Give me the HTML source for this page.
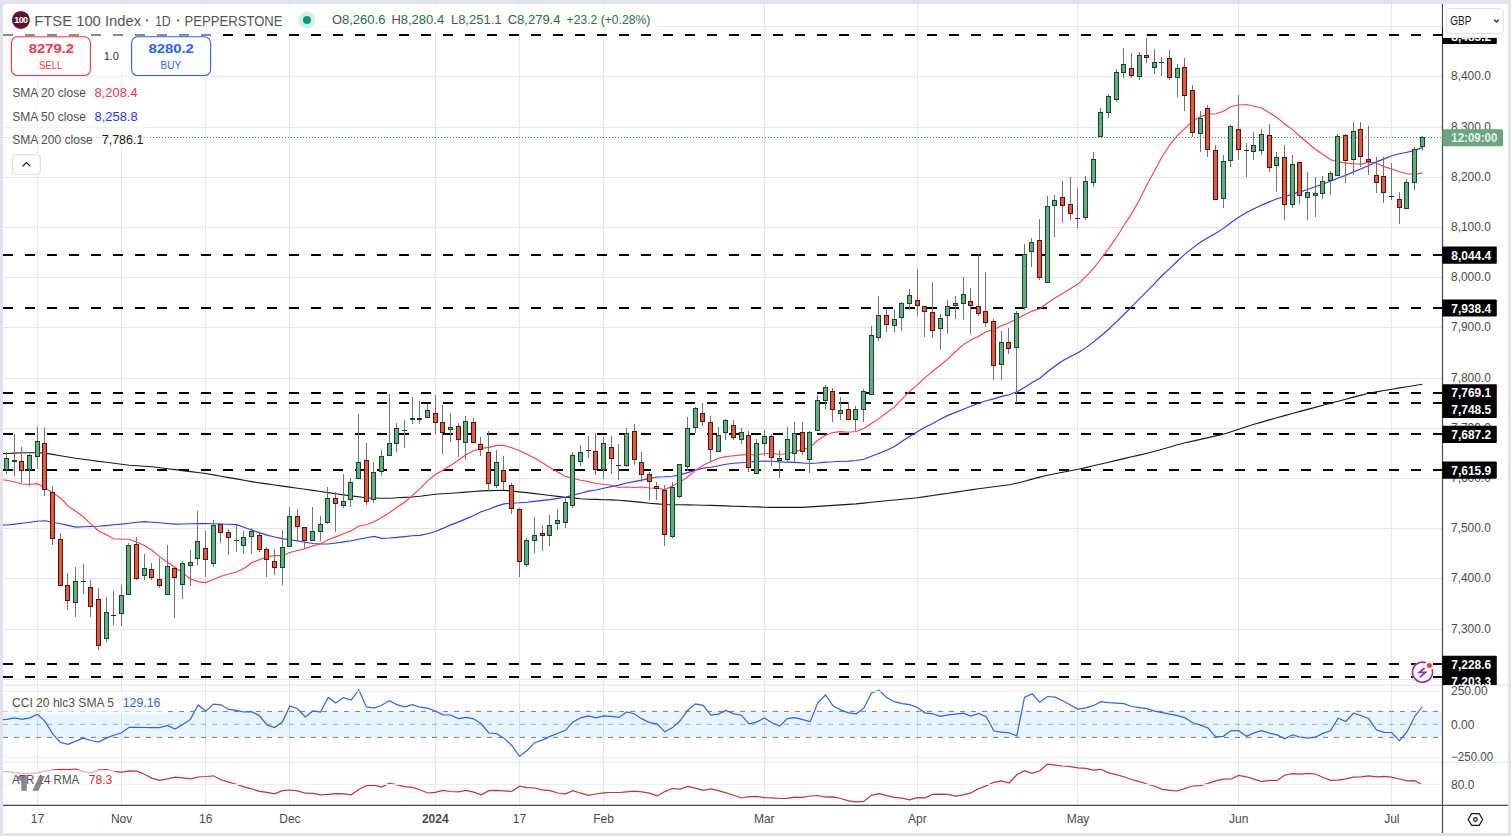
<!DOCTYPE html><html><head><meta charset="utf-8"><style>html,body{margin:0;padding:0;background:#e0e3eb;overflow:hidden}svg{display:block}</style></head><body>
<svg width="1511" height="836" viewBox="0 0 1511 836" style="font-family:&quot;Liberation Sans&quot;,sans-serif">
<rect x="0" y="0" width="1511" height="836" fill="#e0e3eb"/>
<path d="M3 8 Q3 4 7 4 H1504 Q1508 4 1508 8 V833 H3 Z" fill="#ffffff"/>
<defs><clipPath id="chart"><rect x="3" y="4" width="1439.5" height="801"/></clipPath><clipPath id="main"><rect x="3" y="4" width="1439.5" height="681"/></clipPath></defs>
<g stroke="#e6e6e6" stroke-width="1" clip-path="url(#chart)">
<line x1="3" x2="1442" y1="679.5" y2="679.5"/>
<line x1="3" x2="1442" y1="629.5" y2="629.5"/>
<line x1="3" x2="1442" y1="578.5" y2="578.5"/>
<line x1="3" x2="1442" y1="528.5" y2="528.5"/>
<line x1="3" x2="1442" y1="478.5" y2="478.5"/>
<line x1="3" x2="1442" y1="428.5" y2="428.5"/>
<line x1="3" x2="1442" y1="378.5" y2="378.5"/>
<line x1="3" x2="1442" y1="327.5" y2="327.5"/>
<line x1="3" x2="1442" y1="277.5" y2="277.5"/>
<line x1="3" x2="1442" y1="227.5" y2="227.5"/>
<line x1="3" x2="1442" y1="177.5" y2="177.5"/>
<line x1="3" x2="1442" y1="127.5" y2="127.5"/>
<line x1="3" x2="1442" y1="76.5" y2="76.5"/>
<line x1="3" x2="1442" y1="26.5" y2="26.5"/>
<line x1="37.5" x2="37.5" y1="4" y2="805"/>
<line x1="121.5" x2="121.5" y1="4" y2="805"/>
<line x1="205.5" x2="205.5" y1="4" y2="805"/>
<line x1="289.5" x2="289.5" y1="4" y2="805"/>
<line x1="435.5" x2="435.5" y1="4" y2="805"/>
<line x1="519.5" x2="519.5" y1="4" y2="805"/>
<line x1="603.5" x2="603.5" y1="4" y2="805"/>
<line x1="764.5" x2="764.5" y1="4" y2="805"/>
<line x1="917.5" x2="917.5" y1="4" y2="805"/>
<line x1="1077.5" x2="1077.5" y1="4" y2="805"/>
<line x1="1238.5" x2="1238.5" y1="4" y2="805"/>
<line x1="1391.5" x2="1391.5" y1="4" y2="805"/>
</g>
<g stroke="#000" stroke-width="2" stroke-dasharray="10 12" clip-path="url(#main)">
<line x1="3" x2="1442" y1="35" y2="35"/>
<line x1="3" x2="1442" y1="255" y2="255"/>
<line x1="3" x2="1442" y1="308" y2="308"/>
<line x1="3" x2="1442" y1="393" y2="393"/>
<line x1="3" x2="1442" y1="403" y2="403"/>
<line x1="3" x2="1442" y1="434" y2="434"/>
<line x1="3" x2="1442" y1="470" y2="470"/>
<line x1="3" x2="1442" y1="664" y2="664"/>
<line x1="3" x2="1442" y1="677" y2="677"/>
</g>
<line x1="3" x2="1442" y1="137.5" y2="137.5" stroke="#3d8f5f" stroke-width="1" stroke-dasharray="1 2"/>
<g fill="none" clip-path="url(#main)">
<polyline points="3.0,453.6 6.8,453.5 14.5,453.1 22.1,452.7 29.8,452.7 37.4,452.7 45.1,453.1 52.7,454.4 60.4,455.7 68.0,457.0 75.7,458.2 83.3,459.2 91.0,460.3 98.6,461.4 106.3,462.3 113.9,463.3 121.6,464.3 129.2,465.2 136.9,465.7 144.5,466.2 152.2,466.8 159.8,467.7 167.5,468.7 175.1,469.6 182.8,470.6 190.4,471.6 198.1,472.5 205.7,473.5 213.4,474.9 221.0,476.2 228.7,477.6 236.4,478.9 244.0,480.3 251.7,481.6 259.3,482.9 267.0,483.9 274.6,485.0 282.3,486.1 289.9,487.1 297.6,488.2 305.2,489.3 312.9,490.4 320.5,491.5 328.2,492.6 335.8,493.8 343.5,494.9 351.1,495.9 358.8,496.8 366.4,497.7 374.1,498.0 381.7,498.2 389.4,498.2 397.0,497.8 404.7,497.4 412.3,497.0 420.0,496.2 427.6,495.2 435.3,494.2 442.9,493.7 450.6,493.2 458.3,492.7 465.9,492.1 473.6,491.5 481.2,490.9 488.9,490.6 496.5,490.5 504.2,490.4 511.8,491.1 519.5,491.9 527.1,492.6 534.8,493.6 542.4,494.5 550.1,495.5 557.7,496.4 565.4,497.2 573.0,497.9 580.7,498.7 588.3,499.2 596.0,499.4 603.6,499.7 611.3,499.9 618.9,500.2 626.6,500.9 634.2,501.6 641.9,502.4 649.5,503.2 657.2,503.9 664.8,504.5 672.5,504.7 680.1,504.8 687.8,504.9 695.5,505.0 703.1,505.2 710.8,505.4 718.4,505.6 726.1,505.9 733.7,506.2 741.4,506.4 749.0,506.7 756.7,506.9 764.3,507.2 772.0,507.4 779.6,507.4 787.3,507.4 794.9,507.4 802.6,507.4 810.2,506.9 817.9,506.4 825.5,505.9 833.2,505.4 840.8,504.9 848.5,504.4 856.1,503.9 863.8,503.1 871.4,502.3 879.1,501.5 886.7,500.8 894.4,500.0 902.0,499.2 909.7,498.5 917.4,497.7 925.0,496.6 932.7,495.5 940.3,494.4 948.0,493.3 955.6,492.1 963.3,491.0 970.9,489.9 978.6,488.8 986.2,487.7 993.9,486.7 1001.5,485.7 1009.2,484.7 1016.8,483.2 1024.5,481.2 1032.1,479.1 1039.8,477.1 1047.4,475.2 1055.1,473.7 1062.7,472.2 1070.4,470.8 1078.0,469.3 1085.7,467.6 1093.3,465.8 1101.0,464.0 1108.6,462.2 1116.3,460.4 1123.9,458.6 1131.6,456.8 1139.3,455.1 1146.9,453.3 1154.6,451.3 1162.2,449.2 1169.9,447.0 1177.5,444.8 1185.2,442.8 1192.8,441.1 1200.5,439.4 1208.1,437.6 1215.8,435.9 1223.4,434.2 1231.1,431.7 1238.7,429.2 1246.4,426.8 1254.0,424.3 1261.7,422.1 1269.3,419.9 1277.0,417.8 1284.6,415.6 1292.3,413.5 1299.9,411.4 1307.6,409.4 1315.2,407.4 1322.9,405.3 1330.5,403.3 1338.2,401.2 1345.8,399.2 1353.5,397.1 1361.2,395.1 1368.8,393.3 1376.5,391.9 1384.1,390.5 1391.8,389.2 1399.4,387.9 1407.1,386.7 1414.7,385.5 1422.4,384.3" stroke="#1a1a1a" stroke-width="1.15"/>
<polyline points="3.0,525.2 6.8,525.0 14.5,524.1 22.1,523.2 29.8,522.2 37.4,521.2 45.1,520.8 52.7,522.3 60.4,523.8 68.0,525.4 75.7,527.1 83.3,526.8 91.0,526.5 98.6,526.3 106.3,525.6 113.9,524.8 121.6,524.1 129.2,523.2 136.9,522.3 144.5,521.7 152.2,522.3 159.8,522.8 167.5,523.5 175.1,524.1 182.8,524.0 190.4,523.8 198.1,523.6 205.7,523.6 213.4,523.8 221.0,524.0 228.7,524.2 236.4,524.6 244.0,527.3 251.7,530.0 259.3,532.6 267.0,535.1 274.6,537.0 282.3,538.6 289.9,539.7 297.6,540.9 305.2,542.2 312.9,543.5 320.5,544.0 328.2,544.0 335.8,543.0 343.5,541.9 351.1,540.7 358.8,539.3 366.4,537.8 374.1,536.4 381.7,538.3 389.4,538.0 397.0,537.4 404.7,536.6 412.3,535.8 420.0,535.4 427.6,533.8 435.3,531.5 442.9,528.4 450.6,524.9 458.3,522.1 465.9,518.9 473.6,515.6 481.2,511.7 488.9,509.2 496.5,506.1 504.2,503.9 511.8,503.1 519.5,502.8 527.1,502.3 534.8,501.4 542.4,500.4 550.1,499.6 557.7,498.4 565.4,497.2 573.0,495.1 580.7,493.3 588.3,491.1 596.0,490.0 603.6,488.2 611.3,486.6 618.9,485.1 626.6,483.0 634.2,481.6 641.9,480.1 649.5,478.5 657.2,477.0 664.8,476.7 672.5,476.2 680.1,474.9 687.8,472.6 695.5,470.2 703.1,468.1 710.8,467.2 718.4,465.8 726.1,464.2 733.7,463.3 741.4,462.7 749.0,462.0 756.7,461.4 764.3,461.0 772.0,461.3 779.6,461.9 787.3,462.1 794.9,462.4 802.6,463.0 810.2,463.5 817.9,463.0 825.5,462.1 833.2,461.8 840.8,461.2 848.5,461.1 856.1,460.5 863.8,459.3 871.4,456.3 879.1,453.3 886.7,450.2 894.4,446.4 902.0,441.2 909.7,436.3 917.4,431.7 925.0,427.3 932.7,423.4 940.3,419.3 948.0,415.4 955.6,412.4 963.3,409.2 970.9,406.3 978.6,403.2 986.2,400.8 993.9,398.9 1001.5,396.4 1009.2,394.7 1016.8,391.8 1024.5,387.4 1032.1,382.6 1039.8,378.3 1047.4,371.7 1055.1,366.0 1062.7,360.8 1070.4,356.6 1078.0,352.8 1085.7,347.9 1093.3,342.1 1101.0,335.7 1108.6,329.2 1116.3,321.9 1123.9,314.5 1131.6,306.7 1139.3,298.9 1146.9,291.3 1154.6,283.4 1162.2,275.5 1169.9,268.3 1177.5,261.0 1185.2,253.9 1192.8,247.9 1200.5,242.3 1208.1,237.6 1215.8,233.3 1223.4,228.4 1231.1,222.5 1238.7,217.3 1246.4,212.5 1254.0,208.7 1261.7,205.1 1269.3,201.9 1277.0,198.7 1284.6,196.7 1292.3,194.1 1299.9,191.9 1307.6,189.5 1315.2,186.7 1322.9,184.0 1330.5,181.3 1338.2,178.0 1345.8,175.3 1353.5,171.9 1361.2,168.7 1368.8,165.5 1376.5,161.9 1384.1,158.9 1391.8,155.8 1399.4,153.7 1407.1,152.3 1414.7,150.4 1422.4,147.6" stroke="#3434ff" stroke-width="1.15"/>
<polyline points="3.0,480.0 6.8,480.3 14.5,482.0 22.1,484.0 29.8,484.5 37.4,483.7 45.1,487.8 52.7,492.7 60.4,497.9 68.0,506.0 75.7,511.2 83.3,516.8 91.0,524.2 98.6,531.0 106.3,534.8 113.9,538.7 121.6,539.2 129.2,539.3 136.9,542.2 144.5,545.5 152.2,550.5 159.8,556.9 167.5,562.2 175.1,567.5 182.8,572.9 190.4,579.0 198.1,581.6 205.7,582.6 213.4,579.5 221.0,576.2 228.7,574.0 236.4,572.0 244.0,568.5 251.7,562.8 259.3,559.7 267.0,556.9 274.6,555.5 282.3,555.6 289.9,552.5 297.6,550.5 305.2,548.6 312.9,545.9 320.5,543.8 328.2,539.8 335.8,536.9 343.5,533.8 351.1,530.9 358.8,526.0 366.4,524.8 374.1,521.7 381.7,517.6 389.4,512.8 397.0,507.3 404.7,502.3 412.3,495.6 420.0,488.6 427.6,480.8 435.3,474.5 442.9,470.3 450.6,465.4 458.3,460.3 465.9,454.8 473.6,450.8 481.2,448.4 488.9,447.4 496.5,445.4 504.2,445.4 511.8,447.8 519.5,450.8 527.1,454.2 534.8,458.2 542.4,462.8 550.1,467.7 557.7,472.1 565.4,476.4 573.0,478.2 580.7,480.3 588.3,481.6 596.0,483.5 603.6,484.3 611.3,485.3 618.9,487.5 626.6,487.0 634.2,487.5 641.9,487.0 649.5,488.0 657.2,488.3 664.8,489.6 672.5,485.9 680.1,482.1 687.8,476.7 695.5,470.4 703.1,465.2 710.8,461.7 718.4,458.3 726.1,456.6 733.7,455.8 741.4,454.9 749.0,454.8 756.7,454.8 764.3,453.7 772.0,453.3 779.6,454.5 787.3,453.5 794.9,451.4 802.6,449.9 810.2,447.0 817.9,440.2 825.5,435.2 833.2,432.5 840.8,431.6 848.5,432.2 856.1,431.5 863.8,428.6 871.4,423.6 879.1,418.4 886.7,412.8 894.4,407.1 902.0,398.8 909.7,391.4 917.4,384.9 925.0,377.6 932.7,371.3 940.3,365.3 948.0,358.9 955.6,351.5 963.3,344.6 970.9,339.9 978.6,336.2 986.2,331.8 993.9,329.5 1001.5,325.7 1009.2,322.7 1016.8,318.8 1024.5,314.7 1032.1,311.1 1039.8,308.7 1047.4,303.0 1055.1,297.9 1062.7,293.4 1070.4,288.8 1078.0,284.1 1085.7,276.6 1093.3,268.7 1101.0,259.0 1108.6,248.6 1116.3,237.5 1123.9,225.5 1131.6,213.6 1139.3,200.2 1146.9,184.8 1154.6,170.8 1162.2,156.5 1169.9,144.8 1177.5,135.5 1185.2,128.2 1192.8,121.0 1200.5,116.6 1208.1,114.1 1215.8,113.8 1223.4,111.2 1231.1,106.5 1238.7,105.0 1246.4,104.5 1254.0,106.2 1261.7,108.0 1269.3,112.8 1277.0,117.5 1284.6,124.0 1292.3,129.4 1299.9,136.3 1307.6,142.8 1315.2,149.3 1322.9,154.5 1330.5,159.7 1338.2,161.7 1345.8,163.1 1353.5,163.8 1361.2,164.1 1368.8,162.2 1376.5,163.3 1384.1,166.6 1391.8,169.0 1399.4,171.8 1407.1,173.7 1414.7,174.4 1422.4,172.9" stroke="#f7404f" stroke-width="1.15"/>
</g>
<g clip-path="url(#main)" shape-rendering="crispEdges">
<rect x="6" y="452" width="1" height="22" fill="#737373"/>
<rect x="4" y="458" width="5" height="12" fill="#0f4a24"/>
<rect x="5" y="459" width="3" height="10" fill="#6ba886"/>
<rect x="14" y="434" width="1" height="42" fill="#737373"/>
<rect x="12" y="460" width="5" height="2" fill="#0f4a24"/>
<rect x="21" y="447" width="1" height="36" fill="#737373"/>
<rect x="19" y="461" width="5" height="10" fill="#5a120a"/>
<rect x="20" y="462" width="3" height="8" fill="#e05a42"/>
<rect x="29" y="454" width="1" height="32" fill="#737373"/>
<rect x="27" y="455" width="5" height="15" fill="#0f4a24"/>
<rect x="28" y="456" width="3" height="13" fill="#6ba886"/>
<rect x="37" y="427" width="1" height="42" fill="#737373"/>
<rect x="35" y="441" width="5" height="16" fill="#0f4a24"/>
<rect x="36" y="442" width="3" height="14" fill="#6ba886"/>
<rect x="44" y="428" width="1" height="68" fill="#737373"/>
<rect x="42" y="443" width="5" height="47" fill="#5a120a"/>
<rect x="43" y="444" width="3" height="45" fill="#e05a42"/>
<rect x="52" y="486" width="1" height="59" fill="#737373"/>
<rect x="50" y="492" width="5" height="47" fill="#5a120a"/>
<rect x="51" y="493" width="3" height="45" fill="#e05a42"/>
<rect x="60" y="533" width="1" height="53" fill="#737373"/>
<rect x="58" y="539" width="5" height="47" fill="#5a120a"/>
<rect x="59" y="540" width="3" height="45" fill="#e05a42"/>
<rect x="67" y="573" width="1" height="37" fill="#737373"/>
<rect x="65" y="585" width="5" height="16" fill="#5a120a"/>
<rect x="66" y="586" width="3" height="14" fill="#e05a42"/>
<rect x="75" y="567" width="1" height="50" fill="#737373"/>
<rect x="73" y="581" width="5" height="22" fill="#0f4a24"/>
<rect x="74" y="582" width="3" height="20" fill="#6ba886"/>
<rect x="83" y="564" width="1" height="30" fill="#737373"/>
<rect x="81" y="581" width="5" height="1" fill="#0f4a24"/>
<rect x="90" y="580" width="1" height="37" fill="#737373"/>
<rect x="88" y="587" width="5" height="20" fill="#5a120a"/>
<rect x="89" y="588" width="3" height="18" fill="#e05a42"/>
<rect x="98" y="588" width="1" height="62" fill="#737373"/>
<rect x="96" y="599" width="5" height="47" fill="#5a120a"/>
<rect x="97" y="600" width="3" height="45" fill="#e05a42"/>
<rect x="106" y="597" width="1" height="45" fill="#737373"/>
<rect x="104" y="612" width="5" height="27" fill="#0f4a24"/>
<rect x="105" y="613" width="3" height="25" fill="#6ba886"/>
<rect x="113" y="591" width="1" height="34" fill="#737373"/>
<rect x="111" y="615" width="5" height="1" fill="#5a120a"/>
<rect x="121" y="585" width="1" height="41" fill="#737373"/>
<rect x="119" y="595" width="5" height="19" fill="#0f4a24"/>
<rect x="120" y="596" width="3" height="17" fill="#6ba886"/>
<rect x="128" y="543" width="1" height="52" fill="#737373"/>
<rect x="126" y="545" width="5" height="50" fill="#0f4a24"/>
<rect x="127" y="546" width="3" height="48" fill="#6ba886"/>
<rect x="136" y="537" width="1" height="43" fill="#737373"/>
<rect x="134" y="544" width="5" height="35" fill="#5a120a"/>
<rect x="135" y="545" width="3" height="33" fill="#e05a42"/>
<rect x="144" y="554" width="1" height="26" fill="#737373"/>
<rect x="142" y="568" width="5" height="8" fill="#0f4a24"/>
<rect x="143" y="569" width="3" height="6" fill="#6ba886"/>
<rect x="151" y="563" width="1" height="17" fill="#737373"/>
<rect x="149" y="569" width="5" height="9" fill="#5a120a"/>
<rect x="150" y="570" width="3" height="7" fill="#e05a42"/>
<rect x="159" y="558" width="1" height="30" fill="#737373"/>
<rect x="157" y="579" width="5" height="7" fill="#5a120a"/>
<rect x="158" y="580" width="3" height="5" fill="#e05a42"/>
<rect x="167" y="545" width="1" height="50" fill="#737373"/>
<rect x="165" y="566" width="5" height="29" fill="#0f4a24"/>
<rect x="166" y="567" width="3" height="27" fill="#6ba886"/>
<rect x="174" y="568" width="1" height="50" fill="#737373"/>
<rect x="172" y="568" width="5" height="10" fill="#5a120a"/>
<rect x="173" y="569" width="3" height="8" fill="#e05a42"/>
<rect x="182" y="561" width="1" height="38" fill="#737373"/>
<rect x="180" y="563" width="5" height="22" fill="#0f4a24"/>
<rect x="181" y="564" width="3" height="20" fill="#6ba886"/>
<rect x="190" y="550" width="1" height="36" fill="#737373"/>
<rect x="188" y="562" width="5" height="4" fill="#0f4a24"/>
<rect x="189" y="563" width="3" height="2" fill="#6ba886"/>
<rect x="197" y="511" width="1" height="54" fill="#737373"/>
<rect x="195" y="541" width="5" height="18" fill="#0f4a24"/>
<rect x="196" y="542" width="3" height="16" fill="#6ba886"/>
<rect x="205" y="531" width="1" height="46" fill="#737373"/>
<rect x="203" y="548" width="5" height="12" fill="#5a120a"/>
<rect x="204" y="549" width="3" height="10" fill="#e05a42"/>
<rect x="213" y="520" width="1" height="47" fill="#737373"/>
<rect x="211" y="525" width="5" height="39" fill="#0f4a24"/>
<rect x="212" y="526" width="3" height="37" fill="#6ba886"/>
<rect x="220" y="524" width="1" height="19" fill="#737373"/>
<rect x="218" y="524" width="5" height="9" fill="#5a120a"/>
<rect x="219" y="525" width="3" height="7" fill="#e05a42"/>
<rect x="228" y="529" width="1" height="26" fill="#737373"/>
<rect x="226" y="532" width="5" height="6" fill="#5a120a"/>
<rect x="227" y="533" width="3" height="4" fill="#e05a42"/>
<rect x="236" y="525" width="1" height="27" fill="#737373"/>
<rect x="234" y="540" width="5" height="1" fill="#0f4a24"/>
<rect x="243" y="531" width="1" height="23" fill="#737373"/>
<rect x="241" y="537" width="5" height="9" fill="#0f4a24"/>
<rect x="242" y="538" width="3" height="7" fill="#6ba886"/>
<rect x="251" y="528" width="1" height="26" fill="#737373"/>
<rect x="249" y="531" width="5" height="6" fill="#0f4a24"/>
<rect x="250" y="532" width="3" height="4" fill="#6ba886"/>
<rect x="259" y="532" width="1" height="20" fill="#737373"/>
<rect x="257" y="535" width="5" height="15" fill="#5a120a"/>
<rect x="258" y="536" width="3" height="13" fill="#e05a42"/>
<rect x="266" y="547" width="1" height="30" fill="#737373"/>
<rect x="264" y="549" width="5" height="11" fill="#5a120a"/>
<rect x="265" y="550" width="3" height="9" fill="#e05a42"/>
<rect x="274" y="549" width="1" height="26" fill="#737373"/>
<rect x="272" y="561" width="5" height="7" fill="#5a120a"/>
<rect x="273" y="562" width="3" height="5" fill="#e05a42"/>
<rect x="282" y="530" width="1" height="55" fill="#737373"/>
<rect x="280" y="547" width="5" height="21" fill="#0f4a24"/>
<rect x="281" y="548" width="3" height="19" fill="#6ba886"/>
<rect x="289" y="507" width="1" height="40" fill="#737373"/>
<rect x="287" y="516" width="5" height="31" fill="#0f4a24"/>
<rect x="288" y="517" width="3" height="29" fill="#6ba886"/>
<rect x="297" y="509" width="1" height="31" fill="#737373"/>
<rect x="295" y="516" width="5" height="11" fill="#5a120a"/>
<rect x="296" y="517" width="3" height="9" fill="#e05a42"/>
<rect x="304" y="527" width="1" height="21" fill="#737373"/>
<rect x="302" y="527" width="5" height="14" fill="#5a120a"/>
<rect x="303" y="528" width="3" height="12" fill="#e05a42"/>
<rect x="312" y="507" width="1" height="34" fill="#737373"/>
<rect x="310" y="531" width="5" height="10" fill="#0f4a24"/>
<rect x="311" y="532" width="3" height="8" fill="#6ba886"/>
<rect x="320" y="516" width="1" height="25" fill="#737373"/>
<rect x="318" y="524" width="5" height="8" fill="#0f4a24"/>
<rect x="319" y="525" width="3" height="6" fill="#6ba886"/>
<rect x="327" y="487" width="1" height="37" fill="#737373"/>
<rect x="325" y="498" width="5" height="25" fill="#0f4a24"/>
<rect x="326" y="499" width="3" height="23" fill="#6ba886"/>
<rect x="335" y="492" width="1" height="40" fill="#737373"/>
<rect x="333" y="498" width="5" height="6" fill="#5a120a"/>
<rect x="334" y="499" width="3" height="4" fill="#e05a42"/>
<rect x="343" y="474" width="1" height="34" fill="#737373"/>
<rect x="341" y="501" width="5" height="5" fill="#0f4a24"/>
<rect x="342" y="502" width="3" height="3" fill="#6ba886"/>
<rect x="350" y="478" width="1" height="29" fill="#737373"/>
<rect x="348" y="482" width="5" height="18" fill="#0f4a24"/>
<rect x="349" y="483" width="3" height="16" fill="#6ba886"/>
<rect x="358" y="414" width="1" height="65" fill="#737373"/>
<rect x="356" y="462" width="5" height="17" fill="#0f4a24"/>
<rect x="357" y="463" width="3" height="15" fill="#6ba886"/>
<rect x="366" y="443" width="1" height="62" fill="#737373"/>
<rect x="364" y="460" width="5" height="42" fill="#5a120a"/>
<rect x="365" y="461" width="3" height="40" fill="#e05a42"/>
<rect x="373" y="462" width="1" height="41" fill="#737373"/>
<rect x="371" y="472" width="5" height="28" fill="#0f4a24"/>
<rect x="372" y="473" width="3" height="26" fill="#6ba886"/>
<rect x="381" y="450" width="1" height="26" fill="#737373"/>
<rect x="379" y="456" width="5" height="16" fill="#0f4a24"/>
<rect x="380" y="457" width="3" height="14" fill="#6ba886"/>
<rect x="389" y="394" width="1" height="62" fill="#737373"/>
<rect x="387" y="443" width="5" height="13" fill="#0f4a24"/>
<rect x="388" y="444" width="3" height="11" fill="#6ba886"/>
<rect x="396" y="423" width="1" height="29" fill="#737373"/>
<rect x="394" y="428" width="5" height="16" fill="#0f4a24"/>
<rect x="395" y="429" width="3" height="14" fill="#6ba886"/>
<rect x="404" y="420" width="1" height="28" fill="#737373"/>
<rect x="402" y="430" width="5" height="1" fill="#0f4a24"/>
<rect x="412" y="397" width="1" height="27" fill="#737373"/>
<rect x="410" y="418" width="5" height="2" fill="#0f4a24"/>
<rect x="419" y="401" width="1" height="23" fill="#737373"/>
<rect x="417" y="418" width="5" height="2" fill="#5a120a"/>
<rect x="427" y="404" width="1" height="14" fill="#737373"/>
<rect x="425" y="410" width="5" height="8" fill="#0f4a24"/>
<rect x="426" y="411" width="3" height="6" fill="#6ba886"/>
<rect x="435" y="395" width="1" height="39" fill="#737373"/>
<rect x="433" y="413" width="5" height="10" fill="#5a120a"/>
<rect x="434" y="414" width="3" height="8" fill="#e05a42"/>
<rect x="442" y="405" width="1" height="49" fill="#737373"/>
<rect x="440" y="422" width="5" height="11" fill="#5a120a"/>
<rect x="441" y="423" width="3" height="9" fill="#e05a42"/>
<rect x="450" y="413" width="1" height="29" fill="#737373"/>
<rect x="448" y="427" width="5" height="3" fill="#0f4a24"/>
<rect x="449" y="428" width="3" height="1" fill="#6ba886"/>
<rect x="458" y="423" width="1" height="34" fill="#737373"/>
<rect x="456" y="426" width="5" height="14" fill="#5a120a"/>
<rect x="457" y="427" width="3" height="12" fill="#e05a42"/>
<rect x="465" y="416" width="1" height="44" fill="#737373"/>
<rect x="463" y="421" width="5" height="22" fill="#0f4a24"/>
<rect x="464" y="422" width="3" height="20" fill="#6ba886"/>
<rect x="473" y="418" width="1" height="25" fill="#737373"/>
<rect x="471" y="422" width="5" height="21" fill="#5a120a"/>
<rect x="472" y="423" width="3" height="19" fill="#e05a42"/>
<rect x="480" y="437" width="1" height="19" fill="#737373"/>
<rect x="478" y="444" width="5" height="6" fill="#5a120a"/>
<rect x="479" y="445" width="3" height="4" fill="#e05a42"/>
<rect x="488" y="431" width="1" height="60" fill="#737373"/>
<rect x="486" y="452" width="5" height="32" fill="#5a120a"/>
<rect x="487" y="453" width="3" height="30" fill="#e05a42"/>
<rect x="496" y="450" width="1" height="38" fill="#737373"/>
<rect x="494" y="462" width="5" height="24" fill="#0f4a24"/>
<rect x="495" y="463" width="3" height="22" fill="#6ba886"/>
<rect x="503" y="456" width="1" height="34" fill="#737373"/>
<rect x="501" y="470" width="5" height="12" fill="#5a120a"/>
<rect x="502" y="471" width="3" height="10" fill="#e05a42"/>
<rect x="511" y="483" width="1" height="31" fill="#737373"/>
<rect x="509" y="485" width="5" height="24" fill="#5a120a"/>
<rect x="510" y="486" width="3" height="22" fill="#e05a42"/>
<rect x="519" y="508" width="1" height="69" fill="#737373"/>
<rect x="517" y="509" width="5" height="53" fill="#5a120a"/>
<rect x="518" y="510" width="3" height="51" fill="#e05a42"/>
<rect x="526" y="538" width="1" height="29" fill="#737373"/>
<rect x="524" y="540" width="5" height="25" fill="#0f4a24"/>
<rect x="525" y="541" width="3" height="23" fill="#6ba886"/>
<rect x="534" y="517" width="1" height="36" fill="#737373"/>
<rect x="532" y="535" width="5" height="6" fill="#0f4a24"/>
<rect x="533" y="536" width="3" height="4" fill="#6ba886"/>
<rect x="542" y="525" width="1" height="26" fill="#737373"/>
<rect x="540" y="533" width="5" height="3" fill="#5a120a"/>
<rect x="541" y="534" width="3" height="1" fill="#e05a42"/>
<rect x="549" y="515" width="1" height="31" fill="#737373"/>
<rect x="547" y="525" width="5" height="11" fill="#0f4a24"/>
<rect x="548" y="526" width="3" height="9" fill="#6ba886"/>
<rect x="557" y="509" width="1" height="21" fill="#737373"/>
<rect x="555" y="520" width="5" height="4" fill="#0f4a24"/>
<rect x="556" y="521" width="3" height="2" fill="#6ba886"/>
<rect x="565" y="498" width="1" height="30" fill="#737373"/>
<rect x="563" y="502" width="5" height="21" fill="#0f4a24"/>
<rect x="564" y="503" width="3" height="19" fill="#6ba886"/>
<rect x="572" y="452" width="1" height="56" fill="#737373"/>
<rect x="570" y="455" width="5" height="51" fill="#0f4a24"/>
<rect x="571" y="456" width="3" height="49" fill="#6ba886"/>
<rect x="580" y="445" width="1" height="21" fill="#737373"/>
<rect x="578" y="452" width="5" height="10" fill="#0f4a24"/>
<rect x="579" y="453" width="3" height="8" fill="#6ba886"/>
<rect x="588" y="436" width="1" height="22" fill="#737373"/>
<rect x="586" y="450" width="5" height="1" fill="#5a120a"/>
<rect x="595" y="433" width="1" height="42" fill="#737373"/>
<rect x="593" y="451" width="5" height="19" fill="#5a120a"/>
<rect x="594" y="452" width="3" height="17" fill="#e05a42"/>
<rect x="603" y="437" width="1" height="42" fill="#737373"/>
<rect x="601" y="443" width="5" height="27" fill="#0f4a24"/>
<rect x="602" y="444" width="3" height="25" fill="#6ba886"/>
<rect x="611" y="436" width="1" height="38" fill="#737373"/>
<rect x="609" y="447" width="5" height="12" fill="#5a120a"/>
<rect x="610" y="448" width="3" height="10" fill="#e05a42"/>
<rect x="618" y="444" width="1" height="36" fill="#737373"/>
<rect x="616" y="465" width="5" height="1" fill="#5a120a"/>
<rect x="626" y="428" width="1" height="39" fill="#737373"/>
<rect x="624" y="433" width="5" height="33" fill="#0f4a24"/>
<rect x="625" y="434" width="3" height="31" fill="#6ba886"/>
<rect x="634" y="424" width="1" height="41" fill="#737373"/>
<rect x="632" y="431" width="5" height="29" fill="#5a120a"/>
<rect x="633" y="432" width="3" height="27" fill="#e05a42"/>
<rect x="641" y="452" width="1" height="30" fill="#737373"/>
<rect x="639" y="462" width="5" height="13" fill="#5a120a"/>
<rect x="640" y="463" width="3" height="11" fill="#e05a42"/>
<rect x="649" y="472" width="1" height="28" fill="#737373"/>
<rect x="647" y="474" width="5" height="8" fill="#5a120a"/>
<rect x="648" y="475" width="3" height="6" fill="#e05a42"/>
<rect x="656" y="482" width="1" height="18" fill="#737373"/>
<rect x="654" y="486" width="5" height="3" fill="#5a120a"/>
<rect x="655" y="487" width="3" height="1" fill="#e05a42"/>
<rect x="664" y="485" width="1" height="61" fill="#737373"/>
<rect x="662" y="490" width="5" height="45" fill="#5a120a"/>
<rect x="663" y="491" width="3" height="43" fill="#e05a42"/>
<rect x="672" y="482" width="1" height="56" fill="#737373"/>
<rect x="670" y="487" width="5" height="50" fill="#0f4a24"/>
<rect x="671" y="488" width="3" height="48" fill="#6ba886"/>
<rect x="679" y="464" width="1" height="34" fill="#737373"/>
<rect x="677" y="464" width="5" height="33" fill="#0f4a24"/>
<rect x="678" y="465" width="3" height="31" fill="#6ba886"/>
<rect x="687" y="417" width="1" height="54" fill="#737373"/>
<rect x="685" y="428" width="5" height="39" fill="#0f4a24"/>
<rect x="686" y="429" width="3" height="37" fill="#6ba886"/>
<rect x="695" y="407" width="1" height="26" fill="#737373"/>
<rect x="693" y="408" width="5" height="20" fill="#0f4a24"/>
<rect x="694" y="409" width="3" height="18" fill="#6ba886"/>
<rect x="702" y="403" width="1" height="23" fill="#737373"/>
<rect x="700" y="413" width="5" height="9" fill="#5a120a"/>
<rect x="701" y="414" width="3" height="7" fill="#e05a42"/>
<rect x="710" y="416" width="1" height="46" fill="#737373"/>
<rect x="708" y="422" width="5" height="28" fill="#5a120a"/>
<rect x="709" y="423" width="3" height="26" fill="#e05a42"/>
<rect x="718" y="427" width="1" height="25" fill="#737373"/>
<rect x="716" y="435" width="5" height="17" fill="#0f4a24"/>
<rect x="717" y="436" width="3" height="15" fill="#6ba886"/>
<rect x="725" y="419" width="1" height="21" fill="#737373"/>
<rect x="723" y="420" width="5" height="13" fill="#0f4a24"/>
<rect x="724" y="421" width="3" height="11" fill="#6ba886"/>
<rect x="733" y="420" width="1" height="20" fill="#737373"/>
<rect x="731" y="425" width="5" height="13" fill="#5a120a"/>
<rect x="732" y="426" width="3" height="11" fill="#e05a42"/>
<rect x="741" y="428" width="1" height="16" fill="#737373"/>
<rect x="739" y="432" width="5" height="8" fill="#0f4a24"/>
<rect x="740" y="433" width="3" height="6" fill="#6ba886"/>
<rect x="748" y="431" width="1" height="41" fill="#737373"/>
<rect x="746" y="435" width="5" height="33" fill="#5a120a"/>
<rect x="747" y="436" width="3" height="31" fill="#e05a42"/>
<rect x="756" y="439" width="1" height="35" fill="#737373"/>
<rect x="754" y="443" width="5" height="31" fill="#0f4a24"/>
<rect x="755" y="444" width="3" height="29" fill="#6ba886"/>
<rect x="764" y="430" width="1" height="26" fill="#737373"/>
<rect x="762" y="436" width="5" height="8" fill="#0f4a24"/>
<rect x="763" y="437" width="3" height="6" fill="#6ba886"/>
<rect x="771" y="434" width="1" height="32" fill="#737373"/>
<rect x="769" y="436" width="5" height="22" fill="#5a120a"/>
<rect x="770" y="437" width="3" height="20" fill="#e05a42"/>
<rect x="779" y="450" width="1" height="28" fill="#737373"/>
<rect x="777" y="458" width="5" height="3" fill="#0f4a24"/>
<rect x="778" y="459" width="3" height="1" fill="#6ba886"/>
<rect x="787" y="427" width="1" height="34" fill="#737373"/>
<rect x="785" y="439" width="5" height="21" fill="#0f4a24"/>
<rect x="786" y="440" width="3" height="19" fill="#6ba886"/>
<rect x="794" y="422" width="1" height="40" fill="#737373"/>
<rect x="792" y="433" width="5" height="21" fill="#0f4a24"/>
<rect x="793" y="434" width="3" height="19" fill="#6ba886"/>
<rect x="802" y="422" width="1" height="33" fill="#737373"/>
<rect x="800" y="432" width="5" height="20" fill="#5a120a"/>
<rect x="801" y="433" width="3" height="18" fill="#e05a42"/>
<rect x="809" y="431" width="1" height="42" fill="#737373"/>
<rect x="807" y="432" width="5" height="28" fill="#0f4a24"/>
<rect x="808" y="433" width="3" height="26" fill="#6ba886"/>
<rect x="817" y="395" width="1" height="36" fill="#737373"/>
<rect x="815" y="400" width="5" height="31" fill="#0f4a24"/>
<rect x="816" y="401" width="3" height="29" fill="#6ba886"/>
<rect x="825" y="385" width="1" height="24" fill="#737373"/>
<rect x="823" y="387" width="5" height="14" fill="#0f4a24"/>
<rect x="824" y="388" width="3" height="12" fill="#6ba886"/>
<rect x="832" y="388" width="1" height="34" fill="#737373"/>
<rect x="830" y="391" width="5" height="19" fill="#5a120a"/>
<rect x="831" y="392" width="3" height="17" fill="#e05a42"/>
<rect x="840" y="397" width="1" height="23" fill="#737373"/>
<rect x="838" y="410" width="5" height="4" fill="#0f4a24"/>
<rect x="839" y="411" width="3" height="2" fill="#6ba886"/>
<rect x="848" y="402" width="1" height="18" fill="#737373"/>
<rect x="846" y="409" width="5" height="11" fill="#5a120a"/>
<rect x="847" y="410" width="3" height="9" fill="#e05a42"/>
<rect x="855" y="406" width="1" height="25" fill="#737373"/>
<rect x="853" y="409" width="5" height="11" fill="#0f4a24"/>
<rect x="854" y="410" width="3" height="9" fill="#6ba886"/>
<rect x="863" y="389" width="1" height="33" fill="#737373"/>
<rect x="861" y="391" width="5" height="19" fill="#0f4a24"/>
<rect x="862" y="392" width="3" height="17" fill="#6ba886"/>
<rect x="871" y="326" width="1" height="69" fill="#737373"/>
<rect x="869" y="335" width="5" height="60" fill="#0f4a24"/>
<rect x="870" y="336" width="3" height="58" fill="#6ba886"/>
<rect x="878" y="296" width="1" height="45" fill="#737373"/>
<rect x="876" y="315" width="5" height="23" fill="#0f4a24"/>
<rect x="877" y="316" width="3" height="21" fill="#6ba886"/>
<rect x="886" y="308" width="1" height="24" fill="#737373"/>
<rect x="884" y="315" width="5" height="10" fill="#5a120a"/>
<rect x="885" y="316" width="3" height="8" fill="#e05a42"/>
<rect x="894" y="310" width="1" height="22" fill="#737373"/>
<rect x="892" y="319" width="5" height="7" fill="#0f4a24"/>
<rect x="893" y="320" width="3" height="5" fill="#6ba886"/>
<rect x="901" y="302" width="1" height="29" fill="#737373"/>
<rect x="899" y="303" width="5" height="15" fill="#0f4a24"/>
<rect x="900" y="304" width="3" height="13" fill="#6ba886"/>
<rect x="909" y="289" width="1" height="21" fill="#737373"/>
<rect x="907" y="295" width="5" height="9" fill="#0f4a24"/>
<rect x="908" y="296" width="3" height="7" fill="#6ba886"/>
<rect x="917" y="269" width="1" height="47" fill="#737373"/>
<rect x="915" y="300" width="5" height="6" fill="#5a120a"/>
<rect x="916" y="301" width="3" height="4" fill="#e05a42"/>
<rect x="924" y="306" width="1" height="31" fill="#737373"/>
<rect x="922" y="306" width="5" height="6" fill="#5a120a"/>
<rect x="923" y="307" width="3" height="4" fill="#e05a42"/>
<rect x="932" y="282" width="1" height="56" fill="#737373"/>
<rect x="930" y="312" width="5" height="19" fill="#5a120a"/>
<rect x="931" y="313" width="3" height="17" fill="#e05a42"/>
<rect x="940" y="314" width="1" height="36" fill="#737373"/>
<rect x="938" y="318" width="5" height="11" fill="#0f4a24"/>
<rect x="939" y="319" width="3" height="9" fill="#6ba886"/>
<rect x="947" y="300" width="1" height="34" fill="#737373"/>
<rect x="945" y="306" width="5" height="10" fill="#0f4a24"/>
<rect x="946" y="307" width="3" height="8" fill="#6ba886"/>
<rect x="955" y="296" width="1" height="23" fill="#737373"/>
<rect x="953" y="303" width="5" height="3" fill="#0f4a24"/>
<rect x="954" y="304" width="3" height="1" fill="#6ba886"/>
<rect x="963" y="277" width="1" height="43" fill="#737373"/>
<rect x="961" y="294" width="5" height="10" fill="#0f4a24"/>
<rect x="962" y="295" width="3" height="8" fill="#6ba886"/>
<rect x="970" y="288" width="1" height="46" fill="#737373"/>
<rect x="968" y="301" width="5" height="5" fill="#5a120a"/>
<rect x="969" y="302" width="3" height="3" fill="#e05a42"/>
<rect x="978" y="255" width="1" height="61" fill="#737373"/>
<rect x="976" y="306" width="5" height="8" fill="#5a120a"/>
<rect x="977" y="307" width="3" height="6" fill="#e05a42"/>
<rect x="985" y="272" width="1" height="55" fill="#737373"/>
<rect x="983" y="311" width="5" height="12" fill="#5a120a"/>
<rect x="984" y="312" width="3" height="10" fill="#e05a42"/>
<rect x="993" y="319" width="1" height="61" fill="#737373"/>
<rect x="991" y="321" width="5" height="45" fill="#5a120a"/>
<rect x="992" y="322" width="3" height="43" fill="#e05a42"/>
<rect x="1001" y="331" width="1" height="49" fill="#737373"/>
<rect x="999" y="342" width="5" height="23" fill="#0f4a24"/>
<rect x="1000" y="343" width="3" height="21" fill="#6ba886"/>
<rect x="1008" y="328" width="1" height="26" fill="#737373"/>
<rect x="1006" y="342" width="5" height="7" fill="#5a120a"/>
<rect x="1007" y="343" width="3" height="5" fill="#e05a42"/>
<rect x="1016" y="311" width="1" height="92" fill="#737373"/>
<rect x="1014" y="313" width="5" height="35" fill="#0f4a24"/>
<rect x="1015" y="314" width="3" height="33" fill="#6ba886"/>
<rect x="1024" y="244" width="1" height="66" fill="#737373"/>
<rect x="1022" y="254" width="5" height="54" fill="#0f4a24"/>
<rect x="1023" y="255" width="3" height="52" fill="#6ba886"/>
<rect x="1031" y="238" width="1" height="29" fill="#737373"/>
<rect x="1029" y="242" width="5" height="10" fill="#0f4a24"/>
<rect x="1030" y="243" width="3" height="8" fill="#6ba886"/>
<rect x="1039" y="219" width="1" height="61" fill="#737373"/>
<rect x="1037" y="240" width="5" height="38" fill="#5a120a"/>
<rect x="1038" y="241" width="3" height="36" fill="#e05a42"/>
<rect x="1047" y="196" width="1" height="87" fill="#737373"/>
<rect x="1045" y="206" width="5" height="77" fill="#0f4a24"/>
<rect x="1046" y="207" width="3" height="75" fill="#6ba886"/>
<rect x="1054" y="195" width="1" height="42" fill="#737373"/>
<rect x="1052" y="200" width="5" height="6" fill="#0f4a24"/>
<rect x="1053" y="201" width="3" height="4" fill="#6ba886"/>
<rect x="1062" y="181" width="1" height="42" fill="#737373"/>
<rect x="1060" y="197" width="5" height="9" fill="#5a120a"/>
<rect x="1061" y="198" width="3" height="7" fill="#e05a42"/>
<rect x="1070" y="177" width="1" height="43" fill="#737373"/>
<rect x="1068" y="204" width="5" height="10" fill="#5a120a"/>
<rect x="1069" y="205" width="3" height="8" fill="#e05a42"/>
<rect x="1077" y="188" width="1" height="40" fill="#737373"/>
<rect x="1075" y="218" width="5" height="1" fill="#5a120a"/>
<rect x="1085" y="176" width="1" height="44" fill="#737373"/>
<rect x="1083" y="181" width="5" height="37" fill="#0f4a24"/>
<rect x="1084" y="182" width="3" height="35" fill="#6ba886"/>
<rect x="1093" y="152" width="1" height="35" fill="#737373"/>
<rect x="1091" y="159" width="5" height="24" fill="#0f4a24"/>
<rect x="1092" y="160" width="3" height="22" fill="#6ba886"/>
<rect x="1100" y="108" width="1" height="29" fill="#737373"/>
<rect x="1098" y="112" width="5" height="25" fill="#0f4a24"/>
<rect x="1099" y="113" width="3" height="23" fill="#6ba886"/>
<rect x="1108" y="94" width="1" height="24" fill="#737373"/>
<rect x="1106" y="96" width="5" height="17" fill="#0f4a24"/>
<rect x="1107" y="97" width="3" height="15" fill="#6ba886"/>
<rect x="1116" y="69" width="1" height="33" fill="#737373"/>
<rect x="1114" y="72" width="5" height="28" fill="#0f4a24"/>
<rect x="1115" y="73" width="3" height="26" fill="#6ba886"/>
<rect x="1123" y="48" width="1" height="30" fill="#737373"/>
<rect x="1121" y="64" width="5" height="9" fill="#0f4a24"/>
<rect x="1122" y="65" width="3" height="7" fill="#6ba886"/>
<rect x="1131" y="53" width="1" height="25" fill="#737373"/>
<rect x="1129" y="68" width="5" height="8" fill="#5a120a"/>
<rect x="1130" y="69" width="3" height="6" fill="#e05a42"/>
<rect x="1139" y="52" width="1" height="28" fill="#737373"/>
<rect x="1137" y="55" width="5" height="22" fill="#0f4a24"/>
<rect x="1138" y="56" width="3" height="20" fill="#6ba886"/>
<rect x="1146" y="38" width="1" height="25" fill="#737373"/>
<rect x="1144" y="55" width="5" height="3" fill="#5a120a"/>
<rect x="1145" y="56" width="3" height="1" fill="#e05a42"/>
<rect x="1154" y="49" width="1" height="25" fill="#737373"/>
<rect x="1152" y="62" width="5" height="6" fill="#0f4a24"/>
<rect x="1153" y="63" width="3" height="4" fill="#6ba886"/>
<rect x="1161" y="57" width="1" height="19" fill="#737373"/>
<rect x="1159" y="62" width="5" height="1" fill="#0f4a24"/>
<rect x="1169" y="50" width="1" height="30" fill="#737373"/>
<rect x="1167" y="58" width="5" height="20" fill="#5a120a"/>
<rect x="1168" y="59" width="3" height="18" fill="#e05a42"/>
<rect x="1177" y="64" width="1" height="33" fill="#737373"/>
<rect x="1175" y="68" width="5" height="10" fill="#0f4a24"/>
<rect x="1176" y="69" width="3" height="8" fill="#6ba886"/>
<rect x="1184" y="58" width="1" height="53" fill="#737373"/>
<rect x="1182" y="67" width="5" height="29" fill="#5a120a"/>
<rect x="1183" y="68" width="3" height="27" fill="#e05a42"/>
<rect x="1192" y="85" width="1" height="52" fill="#737373"/>
<rect x="1190" y="90" width="5" height="43" fill="#5a120a"/>
<rect x="1191" y="91" width="3" height="41" fill="#e05a42"/>
<rect x="1200" y="111" width="1" height="41" fill="#737373"/>
<rect x="1198" y="118" width="5" height="16" fill="#0f4a24"/>
<rect x="1199" y="119" width="3" height="14" fill="#6ba886"/>
<rect x="1207" y="105" width="1" height="52" fill="#737373"/>
<rect x="1205" y="108" width="5" height="42" fill="#5a120a"/>
<rect x="1206" y="109" width="3" height="40" fill="#e05a42"/>
<rect x="1215" y="145" width="1" height="55" fill="#737373"/>
<rect x="1213" y="150" width="5" height="50" fill="#5a120a"/>
<rect x="1214" y="151" width="3" height="48" fill="#e05a42"/>
<rect x="1223" y="155" width="1" height="53" fill="#737373"/>
<rect x="1221" y="161" width="5" height="38" fill="#0f4a24"/>
<rect x="1222" y="162" width="3" height="36" fill="#6ba886"/>
<rect x="1230" y="125" width="1" height="42" fill="#737373"/>
<rect x="1228" y="126" width="5" height="35" fill="#0f4a24"/>
<rect x="1229" y="127" width="3" height="33" fill="#6ba886"/>
<rect x="1238" y="95" width="1" height="65" fill="#737373"/>
<rect x="1236" y="129" width="5" height="21" fill="#5a120a"/>
<rect x="1237" y="130" width="3" height="19" fill="#e05a42"/>
<rect x="1246" y="143" width="1" height="34" fill="#737373"/>
<rect x="1244" y="150" width="5" height="1" fill="#5a120a"/>
<rect x="1253" y="132" width="1" height="28" fill="#737373"/>
<rect x="1251" y="145" width="5" height="7" fill="#0f4a24"/>
<rect x="1252" y="146" width="3" height="5" fill="#6ba886"/>
<rect x="1261" y="129" width="1" height="26" fill="#737373"/>
<rect x="1259" y="134" width="5" height="17" fill="#0f4a24"/>
<rect x="1260" y="135" width="3" height="15" fill="#6ba886"/>
<rect x="1269" y="124" width="1" height="48" fill="#737373"/>
<rect x="1267" y="135" width="5" height="33" fill="#5a120a"/>
<rect x="1268" y="136" width="3" height="31" fill="#e05a42"/>
<rect x="1276" y="152" width="1" height="40" fill="#737373"/>
<rect x="1274" y="157" width="5" height="9" fill="#0f4a24"/>
<rect x="1275" y="158" width="3" height="7" fill="#6ba886"/>
<rect x="1284" y="145" width="1" height="75" fill="#737373"/>
<rect x="1282" y="157" width="5" height="48" fill="#5a120a"/>
<rect x="1283" y="158" width="3" height="46" fill="#e05a42"/>
<rect x="1292" y="155" width="1" height="53" fill="#737373"/>
<rect x="1290" y="164" width="5" height="41" fill="#0f4a24"/>
<rect x="1291" y="165" width="3" height="39" fill="#6ba886"/>
<rect x="1299" y="162" width="1" height="42" fill="#737373"/>
<rect x="1297" y="162" width="5" height="34" fill="#5a120a"/>
<rect x="1298" y="163" width="3" height="32" fill="#e05a42"/>
<rect x="1307" y="172" width="1" height="48" fill="#737373"/>
<rect x="1305" y="192" width="5" height="6" fill="#0f4a24"/>
<rect x="1306" y="193" width="3" height="4" fill="#6ba886"/>
<rect x="1315" y="177" width="1" height="40" fill="#737373"/>
<rect x="1313" y="193" width="5" height="3" fill="#0f4a24"/>
<rect x="1314" y="194" width="3" height="1" fill="#6ba886"/>
<rect x="1322" y="176" width="1" height="23" fill="#737373"/>
<rect x="1320" y="181" width="5" height="13" fill="#0f4a24"/>
<rect x="1321" y="182" width="3" height="11" fill="#6ba886"/>
<rect x="1330" y="171" width="1" height="24" fill="#737373"/>
<rect x="1328" y="173" width="5" height="8" fill="#0f4a24"/>
<rect x="1329" y="174" width="3" height="6" fill="#6ba886"/>
<rect x="1337" y="134" width="1" height="42" fill="#737373"/>
<rect x="1335" y="136" width="5" height="40" fill="#0f4a24"/>
<rect x="1336" y="137" width="3" height="38" fill="#6ba886"/>
<rect x="1345" y="134" width="1" height="49" fill="#737373"/>
<rect x="1343" y="135" width="5" height="26" fill="#5a120a"/>
<rect x="1344" y="136" width="3" height="24" fill="#e05a42"/>
<rect x="1353" y="122" width="1" height="53" fill="#737373"/>
<rect x="1351" y="131" width="5" height="29" fill="#0f4a24"/>
<rect x="1352" y="132" width="3" height="27" fill="#6ba886"/>
<rect x="1360" y="122" width="1" height="45" fill="#737373"/>
<rect x="1358" y="129" width="5" height="28" fill="#5a120a"/>
<rect x="1359" y="130" width="3" height="26" fill="#e05a42"/>
<rect x="1368" y="126" width="1" height="49" fill="#737373"/>
<rect x="1366" y="159" width="5" height="3" fill="#5a120a"/>
<rect x="1367" y="160" width="3" height="1" fill="#e05a42"/>
<rect x="1376" y="157" width="1" height="36" fill="#737373"/>
<rect x="1374" y="175" width="5" height="8" fill="#5a120a"/>
<rect x="1375" y="176" width="3" height="6" fill="#e05a42"/>
<rect x="1383" y="157" width="1" height="46" fill="#737373"/>
<rect x="1381" y="176" width="5" height="17" fill="#5a120a"/>
<rect x="1382" y="177" width="3" height="15" fill="#e05a42"/>
<rect x="1391" y="163" width="1" height="37" fill="#737373"/>
<rect x="1389" y="196" width="5" height="1" fill="#5a120a"/>
<rect x="1399" y="192" width="1" height="32" fill="#737373"/>
<rect x="1397" y="199" width="5" height="9" fill="#5a120a"/>
<rect x="1398" y="200" width="3" height="7" fill="#e05a42"/>
<rect x="1406" y="179" width="1" height="30" fill="#737373"/>
<rect x="1404" y="182" width="5" height="27" fill="#0f4a24"/>
<rect x="1405" y="183" width="3" height="25" fill="#6ba886"/>
<rect x="1414" y="147" width="1" height="43" fill="#737373"/>
<rect x="1412" y="149" width="5" height="34" fill="#0f4a24"/>
<rect x="1413" y="150" width="3" height="32" fill="#6ba886"/>
<rect x="1422" y="136" width="1" height="15" fill="#737373"/>
<rect x="1420" y="137" width="5" height="10" fill="#0f4a24"/>
<rect x="1421" y="138" width="3" height="8" fill="#6ba886"/>
</g>
<g>
<rect x="3" y="711.4" width="1439.5" height="26" fill="#2196f3" fill-opacity="0.1"/>
<g stroke="#787b86" stroke-width="1" stroke-dasharray="5 6">
<line x1="3" x2="1442" y1="711.4" y2="711.4"/>
<line x1="3" x2="1442" y1="724.3" y2="724.3" stroke-opacity="0.6"/>
<line x1="3" x2="1442" y1="737.4" y2="737.4"/>
</g>
<polyline points="3.0,719.6 6.8,719.4 14.5,717.9 22.1,719.4 29.8,717.9 37.4,714.3 45.1,721.4 52.7,733.8 60.4,742.4 68.0,744.4 75.7,741.1 83.3,738.2 91.0,740.5 98.6,742.0 106.3,738.1 113.9,735.3 121.6,732.8 129.2,727.3 136.9,727.4 144.5,727.5 152.2,727.6 159.8,727.7 167.5,725.5 175.1,729.0 182.8,724.6 190.4,719.4 198.1,705.0 205.7,711.1 213.4,704.1 221.0,704.8 228.7,709.4 236.4,710.3 244.0,712.0 251.7,711.6 259.3,715.6 267.0,724.9 274.6,727.6 282.3,722.1 289.9,706.0 297.6,708.8 305.2,716.9 312.9,711.0 320.5,712.0 328.2,697.4 335.8,702.9 343.5,697.6 351.1,700.0 358.8,689.8 366.4,706.9 374.1,708.1 381.7,705.2 389.4,700.6 397.0,704.7 404.7,706.8 412.3,704.7 420.0,707.2 427.6,708.1 435.3,711.0 442.9,714.9 450.6,715.0 458.3,718.6 465.9,717.4 473.6,718.8 481.2,723.8 488.9,733.0 496.5,733.6 504.2,738.4 511.8,745.5 519.5,756.5 527.1,750.5 534.8,742.7 542.4,740.1 550.1,736.4 557.7,733.3 565.4,730.3 573.0,722.1 580.7,717.8 588.3,715.8 596.0,717.9 603.6,715.8 611.3,716.3 618.9,717.4 626.6,712.0 634.2,713.7 641.9,718.9 649.5,722.6 657.2,723.9 664.8,731.8 672.5,727.6 680.1,720.8 687.8,710.2 695.5,703.8 703.1,705.4 710.8,715.2 718.4,714.1 726.1,710.4 733.7,713.8 741.4,715.2 749.0,723.9 756.7,722.1 764.3,718.0 772.0,722.8 779.6,726.1 787.3,718.6 794.9,717.7 802.6,719.7 810.2,721.6 817.9,702.5 825.5,695.0 833.2,706.1 840.8,709.9 848.5,712.8 856.1,713.8 863.8,708.2 871.4,692.9 879.1,690.2 886.7,697.6 894.4,701.7 902.0,703.7 909.7,704.7 917.4,707.5 925.0,712.8 932.7,713.8 940.3,716.3 948.0,714.8 955.6,714.1 963.3,713.1 970.9,716.1 978.6,713.5 986.2,716.8 993.9,731.0 1001.5,732.2 1009.2,732.8 1016.8,735.9 1024.5,697.4 1032.1,693.8 1039.8,702.2 1047.4,696.5 1055.1,697.2 1062.7,700.8 1070.4,705.0 1078.0,709.1 1085.7,707.8 1093.3,705.7 1101.0,701.7 1108.6,702.7 1116.3,703.2 1123.9,703.7 1131.6,706.5 1139.3,707.6 1146.9,708.6 1154.6,711.1 1162.2,712.6 1169.9,714.1 1177.5,715.7 1185.2,717.9 1192.8,722.8 1200.5,725.1 1208.1,728.0 1215.8,736.9 1223.4,736.3 1231.1,730.5 1238.7,730.7 1246.4,736.3 1254.0,732.9 1261.7,730.7 1269.3,733.1 1277.0,734.9 1284.6,738.8 1292.3,734.8 1299.9,737.0 1307.6,738.1 1315.2,737.2 1322.9,733.4 1330.5,730.8 1338.2,718.3 1345.8,721.5 1353.5,713.2 1361.2,715.5 1368.8,718.8 1376.5,730.0 1384.1,732.3 1391.8,732.5 1399.4,740.9 1407.1,731.7 1414.7,716.5 1422.4,706.5" fill="none" stroke="#2962ff" stroke-width="1.2"/>
<polyline points="3.0,771.5 6.8,771.7 14.5,772.7 22.1,773.3 29.8,773.7 37.4,772.9 45.1,771.1 52.7,770.0 60.4,769.3 68.0,769.6 75.7,769.0 83.3,771.6 91.0,772.9 98.6,770.1 106.3,769.5 113.9,771.4 121.6,772.1 129.2,770.8 136.9,771.1 144.5,774.2 152.2,778.4 159.8,780.3 167.5,778.8 175.1,777.1 182.8,777.9 190.4,778.9 198.1,777.0 205.7,776.5 213.4,775.8 221.0,779.7 228.7,782.1 236.4,784.2 244.0,786.8 251.7,788.8 259.3,791.3 267.0,792.3 274.6,793.9 282.3,790.6 289.9,790.0 297.6,790.9 305.2,793.2 312.9,793.3 320.5,794.9 328.2,794.4 335.8,793.7 343.5,793.8 351.1,794.8 358.8,789.4 366.4,785.5 374.1,785.1 381.7,787.1 389.4,783.2 397.0,784.9 404.7,786.7 412.3,787.4 420.0,789.8 427.6,793.0 435.3,792.4 442.9,790.3 450.6,791.5 458.3,791.8 465.9,790.4 473.6,792.1 481.2,794.8 488.9,790.7 496.5,790.4 504.2,790.8 511.8,791.5 519.5,786.2 527.1,787.7 534.8,788.0 542.4,789.8 550.1,790.7 557.7,793.0 565.4,793.9 573.0,790.7 580.7,793.2 588.3,795.3 596.0,794.0 603.6,792.9 611.3,792.5 618.9,792.5 626.6,791.8 634.2,791.1 641.9,791.9 649.5,793.2 657.2,795.9 664.8,791.6 672.5,788.5 680.1,789.1 687.8,786.4 695.5,788.2 703.1,790.4 710.8,788.8 718.4,790.6 726.1,792.9 733.7,795.2 741.4,798.0 749.0,796.7 756.7,796.4 764.3,797.7 772.0,797.8 779.6,798.5 787.3,798.3 794.9,797.2 802.6,797.3 810.2,796.0 817.9,795.5 825.5,797.1 833.2,796.9 840.8,798.5 848.5,800.8 856.1,801.8 863.8,801.4 871.4,795.4 879.1,793.7 886.7,795.6 894.4,797.4 902.0,798.1 909.7,799.9 917.4,797.6 925.0,797.9 932.7,794.3 940.3,794.1 948.0,794.3 955.6,796.2 963.3,794.8 970.9,792.9 978.6,788.8 986.2,785.9 993.9,782.3 1001.5,780.8 1009.2,783.0 1016.8,774.8 1024.5,770.7 1032.1,773.4 1039.8,770.7 1047.4,764.1 1055.1,765.1 1062.7,766.0 1070.4,766.7 1078.0,767.9 1085.7,768.4 1093.3,770.2 1101.0,769.3 1108.6,772.9 1116.3,774.6 1123.9,776.7 1131.6,779.5 1139.3,781.6 1146.9,784.0 1154.6,786.3 1162.2,789.3 1169.9,790.4 1177.5,791.0 1185.2,788.4 1192.8,786.0 1200.5,785.6 1208.1,783.4 1215.8,780.9 1223.4,779.1 1231.1,779.0 1238.7,775.4 1246.4,776.8 1254.0,779.1 1261.7,781.6 1269.3,780.3 1277.0,780.5 1284.6,775.2 1292.3,773.7 1299.9,774.1 1307.6,773.3 1315.2,774.0 1322.9,777.3 1330.5,780.3 1338.2,780.1 1345.8,778.9 1353.5,777.1 1361.2,776.8 1368.8,775.8 1376.5,776.9 1384.1,776.4 1391.8,777.2 1399.4,779.0 1407.1,780.9 1414.7,780.6 1422.4,784.7" fill="none" stroke="#c62f3a" stroke-width="1.2"/>
<line x1="3" x2="1508" y1="685.2" y2="685.2" stroke="#e0e3eb" stroke-width="1"/>
<line x1="3" x2="1508" y1="762.3" y2="762.3" stroke="#e0e3eb" stroke-width="1"/>
<line x1="3" x2="1442" y1="691.3" y2="691.3" stroke="#ececec" stroke-width="1"/>
<line x1="3" x2="1442" y1="757.3" y2="757.3" stroke="#ececec" stroke-width="1"/>
<line x1="3" x2="1442" y1="784.4" y2="784.4" stroke="#ececec" stroke-width="1"/>
</g>
<line x1="1442.5" x2="1442.5" y1="4" y2="833" stroke="#4a4a4a" stroke-width="1.2"/>
<line x1="3" x2="1508" y1="805.4" y2="805.4" stroke="#4a4a4a" stroke-width="1.2"/>
<text x="1451" y="79.9" font-size="12" fill="#4a4a4a" textLength="39.8" lengthAdjust="spacingAndGlyphs">8,400.0</text>
<text x="1451" y="130.9" font-size="12" fill="#4a4a4a" textLength="39.8" lengthAdjust="spacingAndGlyphs">8,300.0</text>
<text x="1451" y="180.9" font-size="12" fill="#4a4a4a" textLength="39.8" lengthAdjust="spacingAndGlyphs">8,200.0</text>
<text x="1451" y="230.9" font-size="12" fill="#4a4a4a" textLength="39.8" lengthAdjust="spacingAndGlyphs">8,100.0</text>
<text x="1451" y="280.9" font-size="12" fill="#4a4a4a" textLength="39.8" lengthAdjust="spacingAndGlyphs">8,000.0</text>
<text x="1451" y="330.9" font-size="12" fill="#4a4a4a" textLength="39.8" lengthAdjust="spacingAndGlyphs">7,900.0</text>
<text x="1451" y="381.9" font-size="12" fill="#4a4a4a" textLength="39.8" lengthAdjust="spacingAndGlyphs">7,800.0</text>
<text x="1451" y="431.9" font-size="12" fill="#4a4a4a" textLength="39.8" lengthAdjust="spacingAndGlyphs">7,700.0</text>
<text x="1451" y="481.9" font-size="12" fill="#4a4a4a" textLength="39.8" lengthAdjust="spacingAndGlyphs">7,600.0</text>
<text x="1451" y="531.9" font-size="12" fill="#4a4a4a" textLength="39.8" lengthAdjust="spacingAndGlyphs">7,500.0</text>
<text x="1451" y="581.9" font-size="12" fill="#4a4a4a" textLength="39.8" lengthAdjust="spacingAndGlyphs">7,400.0</text>
<text x="1451" y="632.9" font-size="12" fill="#4a4a4a" textLength="39.8" lengthAdjust="spacingAndGlyphs">7,300.0</text>
<defs><clipPath id="pax"><rect x="1442" y="4" width="66" height="681"/></clipPath></defs><g clip-path="url(#pax)">
<rect x="1442.3" y="246.6" width="54.5" height="17.2" rx="1" fill="#000"/>
<text x="1451.3" y="259.7" font-size="13" font-weight="bold" fill="#fff" textLength="39.8" lengthAdjust="spacingAndGlyphs">8,044.4</text>
<rect x="1442.3" y="299.4" width="54.5" height="17.2" rx="1" fill="#000"/>
<text x="1451.3" y="312.5" font-size="13" font-weight="bold" fill="#fff" textLength="39.8" lengthAdjust="spacingAndGlyphs">7,938.4</text>
<rect x="1442.3" y="384.2" width="54.5" height="17.2" rx="1" fill="#000"/>
<text x="1451.3" y="397.3" font-size="13" font-weight="bold" fill="#fff" textLength="39.8" lengthAdjust="spacingAndGlyphs">7,769.1</text>
<rect x="1442.3" y="400.8" width="54.5" height="17.2" rx="1" fill="#000"/>
<text x="1451.3" y="413.9" font-size="13" font-weight="bold" fill="#fff" textLength="39.8" lengthAdjust="spacingAndGlyphs">7,748.5</text>
<rect x="1442.3" y="425.8" width="54.5" height="17.2" rx="1" fill="#000"/>
<text x="1451.3" y="438.9" font-size="13" font-weight="bold" fill="#fff" textLength="39.8" lengthAdjust="spacingAndGlyphs">7,687.2</text>
<rect x="1442.3" y="461.5" width="54.5" height="17.2" rx="1" fill="#000"/>
<text x="1451.3" y="474.6" font-size="13" font-weight="bold" fill="#fff" textLength="39.8" lengthAdjust="spacingAndGlyphs">7,615.9</text>
<rect x="1442.3" y="655.8" width="54.5" height="17.2" rx="1" fill="#000"/>
<text x="1451.3" y="668.9" font-size="13" font-weight="bold" fill="#fff" textLength="39.8" lengthAdjust="spacingAndGlyphs">7,228.6</text>
<rect x="1442.3" y="672.5" width="54.5" height="17.2" rx="1" fill="#000"/>
<text x="1451.3" y="685.6" font-size="13" font-weight="bold" fill="#fff" textLength="39.8" lengthAdjust="spacingAndGlyphs">7,203.3</text>
</g>
<rect x="1442.3" y="27.1" width="54.5" height="16.8" rx="1" fill="#000"/>
<text x="1451.3" y="40.6" font-size="13" font-weight="bold" fill="#fff" textLength="39.8" lengthAdjust="spacingAndGlyphs">8,483.2</text>
<rect x="1442.5" y="129.2" width="60.5" height="17" rx="1.5" fill="#6aa583"/>
<text x="1451.3" y="142" font-size="12.5" font-weight="bold" fill="#e6f2ea" textLength="46" lengthAdjust="spacingAndGlyphs">12:09:00</text>
<text x="1451" y="695" font-size="12" fill="#4a4a4a">250.00</text>
<text x="1451" y="728.5" font-size="12" fill="#4a4a4a">0.00</text>
<text x="1451" y="761" font-size="12" fill="#4a4a4a" textLength="42.2" lengthAdjust="spacingAndGlyphs">−250.00</text>
<text x="1451" y="788.5" font-size="12" fill="#4a4a4a">80.0</text>
<rect x="1443" y="4" width="65" height="33.9" fill="#fff"/>
<rect x="1446.5" y="8.5" width="57" height="25" rx="3.5" fill="#fff" stroke="#e0e3eb" stroke-width="1"/>
<text x="1450.3" y="24.9" font-size="12.5" fill="#131722" textLength="21" lengthAdjust="spacingAndGlyphs">GBP</text>
<path d="M1494.2 19.8 L1496.5 22 L1498.8 19.8" fill="none" stroke="#131722" stroke-width="1.2"/>
<text x="37.4" y="822.5" font-size="12" text-anchor="middle" fill="#4a4a4a">17</text>
<text x="121.6" y="822.5" font-size="12" text-anchor="middle" fill="#4a4a4a">Nov</text>
<text x="205.7" y="822.5" font-size="12" text-anchor="middle" fill="#4a4a4a">16</text>
<text x="289.9" y="822.5" font-size="12" text-anchor="middle" fill="#4a4a4a">Dec</text>
<text x="435.3" y="822.5" font-size="12" text-anchor="middle" fill="#4a4a4a" font-weight="bold">2024</text>
<text x="519.5" y="822.5" font-size="12" text-anchor="middle" fill="#4a4a4a">17</text>
<text x="603.6" y="822.5" font-size="12" text-anchor="middle" fill="#4a4a4a">Feb</text>
<text x="764.3" y="822.5" font-size="12" text-anchor="middle" fill="#4a4a4a">Mar</text>
<text x="917.4" y="822.5" font-size="12" text-anchor="middle" fill="#4a4a4a">Apr</text>
<text x="1078.0" y="822.5" font-size="12" text-anchor="middle" fill="#4a4a4a">May</text>
<text x="1238.7" y="822.5" font-size="12" text-anchor="middle" fill="#4a4a4a">Jun</text>
<text x="1391.8" y="822.5" font-size="12" text-anchor="middle" fill="#4a4a4a">Jul</text>
<path d="M1471.6 813.7 H1479.2 L1482.6 819.5 L1479.2 825.3 H1471.6 L1468.2 819.5 Z" fill="none" stroke="#131722" stroke-width="1.2"/>
<circle cx="1475.4" cy="819.5" r="1.9" fill="none" stroke="#131722" stroke-width="1.1"/>
<rect x="3" y="5" width="655" height="28" fill="#fff" fill-opacity="0.7"/>
<rect x="3" y="33" width="208" height="45" fill="#fff" fill-opacity="0.55"/>
<circle cx="20.9" cy="19.9" r="9" fill="#5b1530"/>
<text x="20.9" y="23.2" font-size="9" font-weight="bold" fill="#fff" text-anchor="middle" letter-spacing="-0.6">100</text>
<text x="34.3" y="25.9" font-size="15" fill="#555555" textLength="106.8" lengthAdjust="spacingAndGlyphs">FTSE 100 Index</text>
<text x="154.9" y="25.9" font-size="15" fill="#555555" textLength="15.9" lengthAdjust="spacingAndGlyphs">1D</text>
<text x="184.6" y="25.9" font-size="15" fill="#555555" textLength="97.9" lengthAdjust="spacingAndGlyphs">PEPPERSTONE</text>
<circle cx="147" cy="20.4" r="1.1" fill="#555"/><circle cx="178.2" cy="20.4" r="1.1" fill="#555"/>
<circle cx="307" cy="19.9" r="8.5" fill="#d3ede7"/><circle cx="307" cy="19.9" r="4" fill="#089981"/>
<text x="331.9" y="24.3" font-size="13" fill="#4f4f4f">O<tspan fill="#276e48">8,260.6</tspan></text>
<text x="391.4" y="24.3" font-size="13" fill="#4f4f4f">H<tspan fill="#276e48">8,280.4</tspan></text>
<text x="450.9" y="24.3" font-size="13" fill="#4f4f4f">L<tspan fill="#276e48">8,251.1</tspan></text>
<text x="507.7" y="24.3" font-size="13" fill="#4f4f4f">C<tspan fill="#276e48">8,279.4</tspan></text>
<text x="566.6" y="24.3" font-size="13" fill="#276e48" textLength="83.7" lengthAdjust="spacingAndGlyphs">+23.2 (+0.28%)</text>
<rect x="11.4" y="36.8" width="79" height="38.7" rx="6" fill="#fff" stroke="#f23645" stroke-width="1.1"/>
<text x="28.8" y="53.2" font-size="13" font-weight="bold" fill="#f23645" textLength="45.2" lengthAdjust="spacingAndGlyphs">8279.2</text>
<text x="38.9" y="69" font-size="11" fill="#f23645" textLength="23.5" lengthAdjust="spacingAndGlyphs">SELL</text>
<text x="111.3" y="60.1" font-size="11" fill="#2a2e39" text-anchor="middle">1.0</text>
<rect x="131.6" y="36.8" width="79" height="38.7" rx="6" fill="#fff" stroke="#2962ff" stroke-width="1.1"/>
<text x="148.4" y="53.2" font-size="13" font-weight="bold" fill="#2962ff" textLength="45.5" lengthAdjust="spacingAndGlyphs">8280.2</text>
<text x="160.6" y="69" font-size="11" fill="#2962ff" textLength="20.6" lengthAdjust="spacingAndGlyphs">BUY</text>
<rect x="3" y="82" width="145" height="68" fill="#fff" fill-opacity="0.55"/>
<text x="12.3" y="97.1" font-size="12.5" fill="#4f4f4f" textLength="73.6" lengthAdjust="spacingAndGlyphs">SMA 20 close</text>
<text x="94.5" y="97.1" font-size="12.5" fill="#f23645" textLength="43.1" lengthAdjust="spacingAndGlyphs">8,208.4</text>
<text x="12.3" y="120.8" font-size="12.5" fill="#4f4f4f" textLength="73.6" lengthAdjust="spacingAndGlyphs">SMA 50 close</text>
<text x="94.5" y="120.8" font-size="12.5" fill="#3030ff" textLength="43.1" lengthAdjust="spacingAndGlyphs">8,258.8</text>
<text x="12.3" y="144.4" font-size="12.5" fill="#4f4f4f" textLength="80.4" lengthAdjust="spacingAndGlyphs">SMA 200 close</text>
<text x="101.7" y="144.4" font-size="12.5" fill="#131722" textLength="41.8" lengthAdjust="spacingAndGlyphs">7,786.1</text>
<rect x="12.5" y="154.8" width="27.8" height="19.5" rx="3" fill="#fff" stroke="#d6d9e1" stroke-width="1"/>
<path d="M22.5 166.4 L26.4 162.6 L30.3 166.4" fill="none" stroke="#131722" stroke-width="1.25"/>
<rect x="3" y="692" width="164" height="22" fill="#fff" fill-opacity="0.6"/>
<text x="12" y="706.8" font-size="12.5" fill="#4f4f4f" textLength="101.9" lengthAdjust="spacingAndGlyphs">CCI 20 hlc3 SMA 5</text>
<text x="122.7" y="706.8" font-size="12.5" fill="#2962ff" textLength="37.7" lengthAdjust="spacingAndGlyphs">129.16</text>
<rect x="3" y="770" width="112" height="17" fill="#fff" fill-opacity="0.6"/>
<text x="12.1" y="783.7" font-size="12.5" fill="#4f4f4f" textLength="67.2" lengthAdjust="spacingAndGlyphs">ATR 14 RMA</text>
<text x="88.8" y="783.7" font-size="12.5" fill="#c62f3a" textLength="23.4" lengthAdjust="spacingAndGlyphs">78.3</text>
<g fill="#787b86" fill-opacity="0.9"><path d="M17 776.1 H26.8 V790.8 H21.3 V780.5 H17 Z"/><path d="M39.2 776.1 H44.7 L38.6 790.8 H32.4 Z"/></g>
<circle cx="1422.5" cy="672.2" r="11" fill="#fff"/>
<path d="M1425.76 662.74 A10.0 10.0 0 1 0 1432.06 669.28" fill="none" stroke="#9c27b0" stroke-width="1.6"/>
<circle cx="1429.4" cy="665.6" r="2.5" fill="#f23645"/>
<path d="M1424.6 668.0 L1419.3 672.4 L1425.6 672.4 L1419.9 677.2" fill="none" stroke="#9c27b0" stroke-width="1.7" stroke-linejoin="miter"/>
</svg></body></html>
